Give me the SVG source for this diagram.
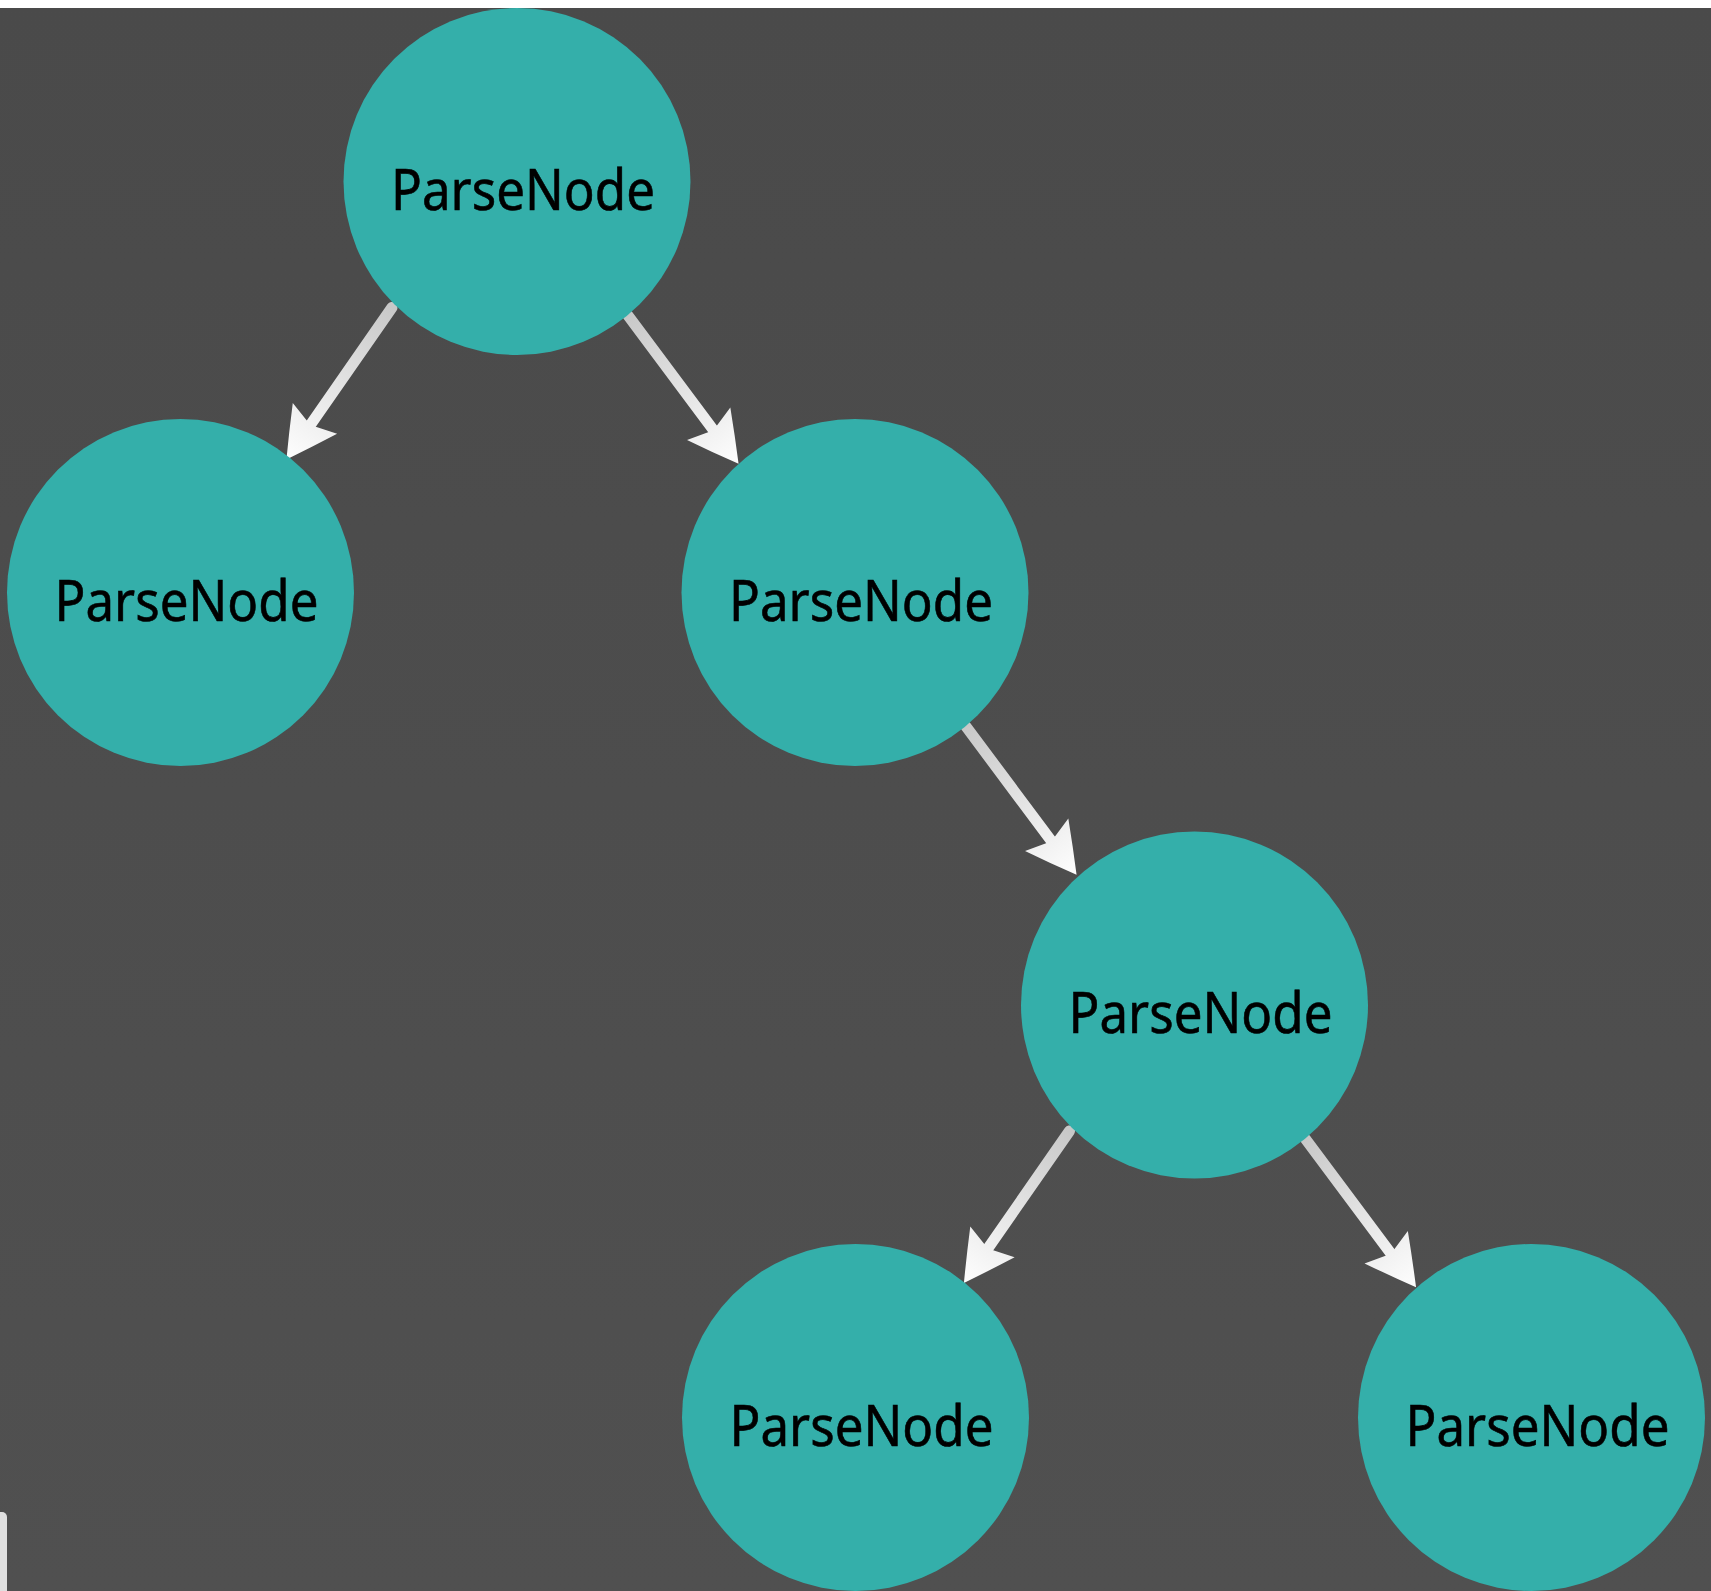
<svg xmlns="http://www.w3.org/2000/svg" width="1711" height="1591" viewBox="0 0 1711 1591">
  <style>
    .node circle { fill: #34afaa; }
    .node text { font-family: "Noto Sans", "Open Sans", sans-serif; font-size: 56px; fill: #000; stroke: #000; stroke-width: 0.6; text-anchor: middle; }
  </style>
  <defs>
    <linearGradient id="bg" x1="0" y1="0" x2="0" y2="1">
      <stop offset="0" stop-color="#4a4a4a"/>
      <stop offset="1" stop-color="#505050"/>
    </linearGradient>
    <!-- shading runs along each edge in its local frame: grey at the parent, white at the tip -->
    <linearGradient id="edgeGrad" gradientUnits="userSpaceOnUse" x1="0" y1="0" x2="185" y2="0">
      <stop offset="0" stop-color="#c8c8c8"/>
      <stop offset="1" stop-color="#fefefe"/>
    </linearGradient>
    <g id="edge">
      <line x1="0" y1="0" x2="146" y2="0" stroke="url(#edgeGrad)" stroke-width="11" stroke-linecap="round"/>
      <path d="M185,0 Q161,-13.5 135,-27 L143,0 L135,27 Q161,13.5 185,0 Z" fill="url(#edgeGrad)"/>
    </g>
  </defs>

  <rect x="0" y="0" width="1711" height="1591" fill="url(#bg)"/>
  <rect x="0" y="0" width="1711" height="8" fill="#ffffff"/>
  <rect x="-10" y="1512" width="17" height="100" rx="5" fill="#e0e0e0"/>

  <g id="edges">
    <g class="edge" id="e1-2" transform="translate(392,307.5) rotate(124.8)"><use href="#edge"/></g>
    <g class="edge" id="e1-3" transform="translate(628,315.5) rotate(53.3)"><use href="#edge"/></g>
    <g class="edge" id="e3-4" transform="translate(966,726.5) rotate(53.3)"><use href="#edge"/></g>
    <g class="edge" id="e4-5" transform="translate(1069.5,1131) rotate(124.8)"><use href="#edge"/></g>
    <g class="edge" id="e4-6" transform="translate(1305.5,1139) rotate(53.3)"><use href="#edge"/></g>
  </g>

  <g class="node" id="n1"><circle cx="517" cy="181.5" r="173.5"/><text x="523" y="209.5" textLength="264" lengthAdjust="spacingAndGlyphs">ParseNode</text></g>
  <g class="node" id="n2"><circle cx="180.5" cy="592.5" r="173.5"/><text x="186.5" y="620.5" textLength="264" lengthAdjust="spacingAndGlyphs">ParseNode</text></g>
  <g class="node" id="n3"><circle cx="855" cy="592.5" r="173.5"/><text x="861" y="620.5" textLength="264" lengthAdjust="spacingAndGlyphs">ParseNode</text></g>
  <g class="node" id="n4"><circle cx="1194.5" cy="1005" r="173.5"/><text x="1200.5" y="1033" textLength="264" lengthAdjust="spacingAndGlyphs">ParseNode</text></g>
  <g class="node" id="n5"><circle cx="855.5" cy="1417.5" r="173.5"/><text x="861.5" y="1445.5" textLength="264" lengthAdjust="spacingAndGlyphs">ParseNode</text></g>
  <g class="node" id="n6"><circle cx="1531.5" cy="1417.5" r="173.5"/><text x="1537.5" y="1445.5" textLength="264" lengthAdjust="spacingAndGlyphs">ParseNode</text></g>
</svg>
